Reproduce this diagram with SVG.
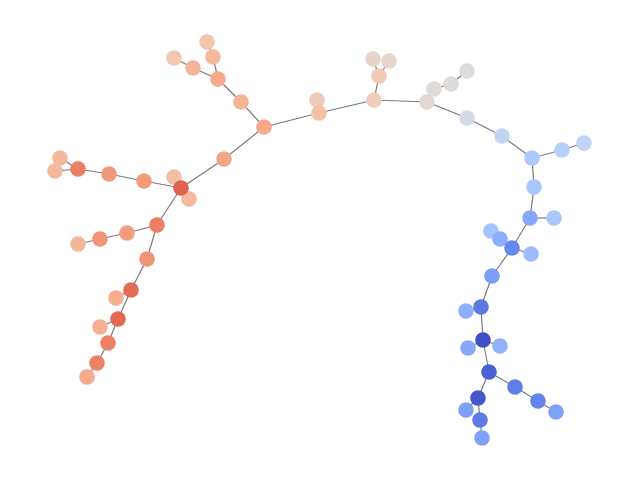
<svg xmlns="http://www.w3.org/2000/svg" width="640" height="480" viewBox="0 0 640 480">
<style>
.e{stroke:#7a7a7a;stroke-width:1.2;fill:none}
.n circle{r:7.8px}
</style>
<rect width="640" height="480" fill="#ffffff"/>
<g id="edges" class="e">
<line x1="207" y1="42" x2="213" y2="57"/>
<line x1="174" y1="58" x2="193" y2="68"/>
<line x1="193" y1="68" x2="218" y2="79"/>
<line x1="213" y1="57" x2="218" y2="79"/>
<line x1="218" y1="79" x2="241" y2="102"/>
<line x1="241" y1="102" x2="264" y2="127"/>
<line x1="264" y1="127" x2="224" y2="159"/>
<line x1="224" y1="159" x2="181" y2="188"/>
<line x1="60" y1="158" x2="78" y2="169"/>
<line x1="55" y1="171" x2="78" y2="169"/>
<line x1="78" y1="169" x2="109" y2="174"/>
<line x1="109" y1="174" x2="144" y2="181"/>
<line x1="144" y1="181" x2="181" y2="188"/>
<line x1="174" y1="177" x2="181" y2="188"/>
<line x1="189" y1="199" x2="181" y2="188"/>
<line x1="181" y1="188" x2="157" y2="225"/>
<line x1="157" y1="225" x2="127" y2="233"/>
<line x1="127" y1="233" x2="100" y2="239"/>
<line x1="100" y1="239" x2="78" y2="244"/>
<line x1="157" y1="225" x2="147" y2="259"/>
<line x1="147" y1="259" x2="131" y2="290"/>
<line x1="131" y1="290" x2="116" y2="298"/>
<line x1="131" y1="290" x2="118" y2="319"/>
<line x1="118" y1="319" x2="100" y2="327"/>
<line x1="118" y1="319" x2="108" y2="343"/>
<line x1="108" y1="343" x2="97" y2="363"/>
<line x1="97" y1="363" x2="87" y2="377"/>
<line x1="264" y1="127" x2="319" y2="113"/>
<line x1="317" y1="100" x2="319" y2="113"/>
<line x1="319" y1="113" x2="374" y2="100"/>
<line x1="374" y1="100" x2="379" y2="76"/>
<line x1="379" y1="76" x2="373" y2="59"/>
<line x1="379" y1="76" x2="389" y2="61"/>
<line x1="374" y1="100" x2="427" y2="102"/>
<line x1="427" y1="102" x2="434" y2="89"/>
<line x1="434" y1="89" x2="451" y2="84"/>
<line x1="451" y1="84" x2="467" y2="71"/>
<line x1="427" y1="102" x2="467" y2="118"/>
<line x1="467" y1="118" x2="502" y2="136"/>
<line x1="502" y1="136" x2="532" y2="158"/>
<line x1="532" y1="158" x2="562" y2="150"/>
<line x1="562" y1="150" x2="584" y2="143"/>
<line x1="532" y1="158" x2="534" y2="187"/>
<line x1="534" y1="187" x2="530" y2="218"/>
<line x1="530" y1="218" x2="554" y2="218"/>
<line x1="530" y1="218" x2="512" y2="248"/>
<line x1="512" y1="248" x2="500" y2="239"/>
<line x1="500" y1="239" x2="491" y2="231"/>
<line x1="512" y1="248" x2="531" y2="254"/>
<line x1="512" y1="248" x2="492" y2="276"/>
<line x1="492" y1="276" x2="481" y2="307"/>
<line x1="481" y1="307" x2="466" y2="311"/>
<line x1="481" y1="307" x2="483" y2="340"/>
<line x1="483" y1="340" x2="468" y2="348"/>
<line x1="483" y1="340" x2="500" y2="346"/>
<line x1="483" y1="340" x2="489" y2="372"/>
<line x1="489" y1="372" x2="515" y2="387"/>
<line x1="515" y1="387" x2="538" y2="401"/>
<line x1="538" y1="401" x2="556" y2="412"/>
<line x1="489" y1="372" x2="478" y2="398"/>
<line x1="478" y1="398" x2="466" y2="410"/>
<line x1="478" y1="398" x2="480" y2="420"/>
<line x1="480" y1="420" x2="482" y2="438"/>
</g>
<g class="n">
<g id="n1"><circle cx="207" cy="42" r="7.8" fill="#f1c6ae"/></g>
<g id="n2"><circle cx="213" cy="57" r="7.8" fill="#f4b89b"/></g>
<g id="n3"><circle cx="174" cy="58" r="7.8" fill="#f2c8b1"/></g>
<g id="n4"><circle cx="193" cy="68" r="7.8" fill="#f4b497"/></g>
<g id="n5"><circle cx="218" cy="79" r="7.8" fill="#f5aa89"/></g>
<g id="n6"><circle cx="241" cy="102" r="7.8" fill="#f5b394"/></g>
<g id="n7"><circle cx="264" cy="127" r="7.8" fill="#f5aa89"/></g>
<g id="n8"><circle cx="224" cy="159" r="7.8" fill="#f4a785"/></g>
<g id="n9"><circle cx="174" cy="177" r="7.8" fill="#f2bea4"/></g>
<g id="n10"><circle cx="189" cy="199" r="7.8" fill="#f4ba9d"/></g>
<g id="n11"><circle cx="181" cy="188" r="7.8" fill="#e0634f"/></g>
<g id="n12"><circle cx="144" cy="181" r="7.8" fill="#f39c7c"/></g>
<g id="n13"><circle cx="109" cy="174" r="7.8" fill="#f0987b"/></g>
<g id="n14"><circle cx="60" cy="158" r="7.8" fill="#f4ba9d"/></g>
<g id="n15"><circle cx="55" cy="171" r="7.8" fill="#f4ba9d"/></g>
<g id="n16"><circle cx="78" cy="169" r="7.8" fill="#e97f65"/></g>
<g id="n17"><circle cx="157" cy="225" r="7.8" fill="#ec7f63"/></g>
<g id="n18"><circle cx="127" cy="233" r="7.8" fill="#f29c7d"/></g>
<g id="n19"><circle cx="100" cy="239" r="7.8" fill="#f0937a"/></g>
<g id="n20"><circle cx="78" cy="244" r="7.8" fill="#f5b79b"/></g>
<g id="n21"><circle cx="147" cy="259" r="7.8" fill="#f0957b"/></g>
<g id="n22"><circle cx="116" cy="298" r="7.8" fill="#f5ae90"/></g>
<g id="n23"><circle cx="131" cy="290" r="7.8" fill="#e56c55"/></g>
<g id="n24"><circle cx="100" cy="327" r="7.8" fill="#f5af91"/></g>
<g id="n25"><circle cx="118" cy="319" r="7.8" fill="#e36853"/></g>
<g id="n26"><circle cx="108" cy="343" r="7.8" fill="#ea8266"/></g>
<g id="n27"><circle cx="97" cy="363" r="7.8" fill="#ec8367"/></g>
<g id="n28"><circle cx="87" cy="377" r="7.8" fill="#f4aa8b"/></g>
<g id="n29"><circle cx="317" cy="100" r="7.8" fill="#eccbbb"/></g>
<g id="n30"><circle cx="319" cy="113" r="7.8" fill="#f5c0a6"/></g>
<g id="n31"><circle cx="373" cy="59" r="7.8" fill="#e8d4c9"/></g>
<g id="n32"><circle cx="389" cy="61" r="7.8" fill="#e8d5cb"/></g>
<g id="n33"><circle cx="379" cy="76" r="7.8" fill="#f1c9b5"/></g>
<g id="n34"><circle cx="374" cy="100" r="7.8" fill="#f0cdbb"/></g>
<g id="n35"><circle cx="467" cy="71" r="7.8" fill="#dedcdb"/></g>
<g id="n36"><circle cx="451" cy="84" r="7.8" fill="#dfdbd9"/></g>
<g id="n37"><circle cx="434" cy="89" r="7.8" fill="#e0dbd8"/></g>
<g id="n38"><circle cx="427" cy="102" r="7.8" fill="#e2d9d3"/></g>
<g id="n39"><circle cx="467" cy="118" r="7.8" fill="#d5dbe5"/></g>
<g id="n40"><circle cx="502" cy="136" r="7.8" fill="#c4d5f3"/></g>
<g id="n41"><circle cx="562" cy="150" r="7.8" fill="#b6cefa"/></g>
<g id="n42"><circle cx="584" cy="143" r="7.8" fill="#c0d4f5"/></g>
<g id="n43"><circle cx="532" cy="158" r="7.8" fill="#adc9fd"/></g>
<g id="n44"><circle cx="534" cy="187" r="7.8" fill="#a7c5fe"/></g>
<g id="n45"><circle cx="554" cy="218" r="7.8" fill="#aac7fd"/></g>
<g id="n46"><circle cx="530" cy="218" r="7.8" fill="#84a7fc"/></g>
<g id="n47"><circle cx="491" cy="231" r="7.8" fill="#a3c2fe"/></g>
<g id="n48"><circle cx="500" cy="239" r="7.8" fill="#8badfd"/></g>
<g id="n49"><circle cx="531" cy="254" r="7.8" fill="#9dbdff"/></g>
<g id="n50"><circle cx="512" cy="248" r="7.8" fill="#6788ee"/></g>
<g id="n51"><circle cx="492" cy="276" r="7.8" fill="#7b9ff9"/></g>
<g id="n52"><circle cx="466" cy="311" r="7.8" fill="#8caffe"/></g>
<g id="n53"><circle cx="481" cy="307" r="7.8" fill="#5b7ae5"/></g>
<g id="n54"><circle cx="468" cy="348" r="7.8" fill="#86a9fc"/></g>
<g id="n55"><circle cx="500" cy="346" r="7.8" fill="#8fb1fe"/></g>
<g id="n56"><circle cx="483" cy="340" r="7.8" fill="#3e4fc3"/></g>
<g id="n57"><circle cx="489" cy="372" r="7.8" fill="#4a63d3"/></g>
<g id="n58"><circle cx="515" cy="387" r="7.8" fill="#5e7fe7"/></g>
<g id="n59"><circle cx="538" cy="401" r="7.8" fill="#6384eb"/></g>
<g id="n60"><circle cx="556" cy="412" r="7.8" fill="#7fa1fa"/></g>
<g id="n61"><circle cx="466" cy="410" r="7.8" fill="#7da0f9"/></g>
<g id="n62"><circle cx="478" cy="398" r="7.8" fill="#4358cb"/></g>
<g id="n63"><circle cx="480" cy="420" r="7.8" fill="#5d7ce6"/></g>
<g id="n64"><circle cx="482" cy="438" r="7.8" fill="#7fa1fa"/></g>
</g>
</svg>
